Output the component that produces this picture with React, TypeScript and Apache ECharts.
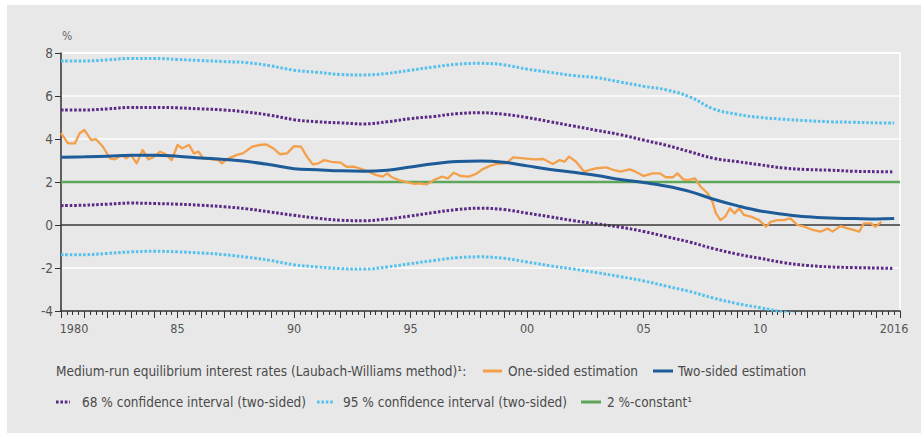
import React, { useEffect, useRef } from "react";
import * as echarts from "echarts";

// ---- data ----
const years = [1980, 1981, 1982, 1983, 1984, 1985, 1986, 1987, 1988, 1989, 1990, 1991, 1992, 1993, 1994, 1995, 1996, 1997, 1998, 1999, 2000, 2001, 2002, 2003, 2004, 2005, 2006, 2007, 2008, 2009, 2010, 2011, 2012, 2013, 2014, 2015, 2015.75];

const twoSided = [3.15, 3.17, 3.2, 3.25, 3.25, 3.2, 3.12, 3.05, 2.95, 2.8, 2.62, 2.57, 2.52, 2.5, 2.55, 2.7, 2.85, 2.95, 2.98, 2.92, 2.75, 2.58, 2.45, 2.3, 2.12, 1.98, 1.8, 1.55, 1.2, 0.9, 0.65, 0.5, 0.38, 0.32, 0.3, 0.28, 0.3];

const ci68Upper = [5.35, 5.35, 5.4, 5.47, 5.47, 5.45, 5.4, 5.35, 5.25, 5.1, 4.9, 4.8, 4.75, 4.7, 4.8, 4.95, 5.05, 5.18, 5.22, 5.15, 5.0, 4.8, 4.6, 4.4, 4.2, 3.95, 3.7, 3.4, 3.1, 2.95, 2.8, 2.65, 2.58, 2.55, 2.5, 2.48, 2.47];
const ci68Lower = [0.9, 0.92, 0.97, 1.02, 1.0, 0.97, 0.92, 0.85, 0.75, 0.6, 0.45, 0.32, 0.22, 0.2, 0.28, 0.42, 0.58, 0.72, 0.78, 0.72, 0.55, 0.38, 0.2, 0.05, -0.1, -0.3, -0.55, -0.8, -1.1, -1.35, -1.55, -1.75, -1.88, -1.95, -1.98, -2.0, -2.02];

const ci95Upper = [7.63, 7.63, 7.68, 7.75, 7.75, 7.7, 7.65, 7.6, 7.55, 7.4, 7.2, 7.1, 7.0, 6.98, 7.05, 7.2, 7.35, 7.48, 7.52, 7.45, 7.25, 7.1, 6.95, 6.85, 6.65, 6.45, 6.28, 5.95, 5.4, 5.15, 5.0, 4.92, 4.85, 4.8, 4.78, 4.75, 4.74];
const ci95Lower = [-1.38, -1.38, -1.32, -1.25, -1.22, -1.25, -1.3, -1.38, -1.5, -1.65, -1.85, -1.95, -2.03, -2.05, -1.95, -1.8, -1.65, -1.52, -1.48, -1.55, -1.72, -1.9, -2.05, -2.22, -2.4, -2.6, -2.85, -3.1, -3.4, -3.65, -3.85, -4.05, -4.2, -4.3, -4.4, -4.45, -4.5];

const oneSidedYears = [
  1980.0, 1980.3, 1980.6, 1980.8, 1981.0, 1981.3, 1981.5, 1981.8, 1982.1, 1982.3, 1982.6, 1982.8,
  1983.0, 1983.25, 1983.5, 1983.75, 1984.0, 1984.25, 1984.5, 1984.75, 1985.0, 1985.2, 1985.5, 1985.7, 1985.9,
  1986.1, 1986.5, 1986.75, 1986.9, 1987.2, 1987.55, 1987.8, 1988.2, 1988.5, 1988.8, 1989.1, 1989.4, 1989.7,
  1990.0, 1990.3, 1990.55, 1990.8, 1991.05, 1991.3, 1991.6, 1992.0, 1992.25, 1992.55, 1992.8,
  1993.2, 1993.5, 1993.8, 1994.0, 1994.2, 1994.5, 1994.8, 1995.15, 1995.4, 1995.7,
  1996.0, 1996.35, 1996.6, 1996.85, 1997.15, 1997.5, 1997.8, 1998.1, 1998.4, 1998.7,
  1999.1, 1999.4, 1999.85, 2000.3, 2000.7, 2001.1, 2001.4, 2001.6, 2001.8, 2002.1, 2002.45, 2002.7,
  2003.0, 2003.4, 2003.7, 2004.0, 2004.4, 2004.65, 2005.0, 2005.4, 2005.7, 2005.95,
  2006.25, 2006.45, 2006.7, 2006.9, 2007.2, 2007.45, 2007.75, 2007.95,
  2008.1, 2008.3, 2008.5, 2008.7, 2008.9, 2009.1, 2009.3, 2009.6, 2009.95,
  2010.25, 2010.45, 2010.75, 2011.0, 2011.3, 2011.6, 2011.9, 2012.25, 2012.6, 2012.9,
  2013.1, 2013.45, 2013.75, 2014.0, 2014.25, 2014.45, 2014.75, 2014.95, 2015.2,
];
const oneSided = [
  4.27, 3.8, 3.8, 4.27, 4.42, 3.95, 3.99, 3.64, 3.1, 3.05, 3.26, 3.1,
  3.26, 2.87, 3.49, 3.05, 3.18, 3.41, 3.29, 3.02, 3.72, 3.57, 3.72, 3.33, 3.41,
  3.1, 3.05, 3.02, 2.87, 3.1, 3.26, 3.33, 3.64, 3.72, 3.75, 3.57, 3.29, 3.33,
  3.67, 3.64, 3.18, 2.82, 2.87, 3.02, 2.94, 2.9, 2.71, 2.71, 2.64,
  2.48, 2.33, 2.25, 2.4, 2.22, 2.09, 2.01, 1.91, 1.94, 1.89,
  2.09, 2.25, 2.17, 2.43, 2.28, 2.25, 2.37, 2.6, 2.75, 2.84,
  2.87, 3.15, 3.1, 3.05, 3.07, 2.84, 3.02, 2.94, 3.18, 2.94, 2.48, 2.56,
  2.64, 2.68, 2.56, 2.48, 2.59, 2.48, 2.28, 2.4, 2.4, 2.22,
  2.22, 2.4, 2.12, 2.09, 2.17, 1.78, 1.47, 1.09,
  0.54, 0.23, 0.39, 0.78, 0.54, 0.78, 0.47, 0.39, 0.23,
  -0.08, 0.15, 0.23, 0.23, 0.31, 0.0, -0.08, -0.23, -0.31, -0.16,
  -0.31, -0.05, -0.16, -0.23, -0.31, 0.08, 0.08, -0.08, 0.15,
];

const constantYears = [1980, 2016];
const constantValues = [2, 2];

const seriesNames = {
  one: "One-sided estimation",
  two: "Two-sided estimation",
  ci68: "68 % confidence interval (two-sided)",
  ci95: "95 % confidence interval (two-sided)",
  constant: "2 %-constant¹",
};
const legendTitle = "Medium-run equilibrium interest rates (Laubach-Williams method)¹:";

// ---- style ----
const FONT = "'Liberation Sans Narrow', 'Arial Narrow', 'DejaVu Sans Condensed', 'Liberation Sans', sans-serif";
const C = {
  orange: "#f4a04b",
  blue: "#1d5c99",
  green: "#5ea65a",
  purple: "#5b2a86",
  cyan: "#55c1ec",
  bg: "#e8e8e8",
  text: "#4a4a4a",
  axis: "#2a2a2a",
};

const pairs = (xs: number[], ys: number[]) => xs.map((x, i) => [x, ys[i]]);

export default function App() {
  const ref = useRef<HTMLDivElement>(null);

  useEffect(() => {
    if (!ref.current) return;
    const chart = echarts.init(ref.current, undefined, { renderer: "svg" });

    const dotted = (color: string) => ({
      color,
      width: 3,
      type: [2.6, 1.8] as any,
      cap: "butt" as const,
    });

    const lineSeries = (name: string, data: any[], lineStyle: any, z: number, smooth: boolean | number) => ({
      name,
      type: "line",
      data,
      showSymbol: false,
      symbol: "none",
      smooth,
      lineStyle,
      itemStyle: { color: lineStyle.color },
      z,
      silent: true,
    });

    const legendY1 = 371;
    const legendY2 = 402;
    const LFS = 13.5;
    const legendText = (x: number, y: number, text: string) => ({
      type: "text",
      x,
      y,
      style: { text, fill: C.text, font: `${LFS}px ${FONT}`, verticalAlign: "middle", align: "left" },
    });
    const legendLine = (x1: number, x2: number, y: number, color: string, dash?: number[]) => ({
      type: "line",
      shape: { x1, y1: y, x2, y2: y },
      style: { stroke: color, lineWidth: 3, lineDash: dash, lineCap: "butt" },
    });

    const AFS = 12.5;

    chart.setOption({
      animation: false,
      backgroundColor: "#ffffff",
      grid: {
        left: 61,
        right: 21,
        top: 53,
        bottom: 122,
        show: true,
        borderColor: "#ffffff",
        borderWidth: 1.5,
        backgroundColor: "transparent",
      },
      xAxis: {
        type: "value",
        min: 1980,
        max: 2016,
        interval: 1,
        axisLine: { show: true, onZero: false, lineStyle: { color: C.axis, width: 1.5 } },
        axisTick: { show: true, length: 7, lineStyle: { color: "#333", width: 1 } },
        minorTick: { show: true, splitNumber: 4, length: 4, lineStyle: { color: "#333", width: 1 } },
        splitLine: { show: false },
        minorSplitLine: { show: false },
        axisLabel: {
          margin: 11,
          color: "#555",
          fontSize: AFS,
          fontFamily: FONT,
          formatter: (v: number) => {
            if (v === 1980) return "{a|1980}";
            if (v === 2016) return "{b|2016}";
            if (v % 5 === 0 && v !== 2015) return String(v).slice(2);
            return "";
          },
          rich: {
            a: { padding: [0, 0, 0, 26], fontSize: AFS, fontFamily: FONT, color: "#555" },
            b: { padding: [0, 12, 0, 0], fontSize: AFS, fontFamily: FONT, color: "#555" },
          },
        },
      },
      yAxis: {
        type: "value",
        min: -4,
        max: 8,
        interval: 2,
        axisLine: { show: true, lineStyle: { color: C.axis, width: 1.5 } },
        axisTick: { show: true, length: 6, lineStyle: { color: "#333", width: 1 } },
        splitLine: { show: true, lineStyle: { color: "#ffffff", width: 1.5 } },
        axisLabel: { margin: 8, color: "#555", fontSize: 13.5, fontFamily: FONT },
      },
      series: [
        lineSeries(seriesNames.ci95, pairs(years, ci95Upper), dotted(C.cyan), 2, 0.4),
        lineSeries(seriesNames.ci95 + " lower", pairs(years, ci95Lower), dotted(C.cyan), 2, 0.4),
        lineSeries(seriesNames.ci68, pairs(years, ci68Upper), dotted(C.purple), 3, 0.4),
        lineSeries(seriesNames.ci68 + " lower", pairs(years, ci68Lower), dotted(C.purple), 3, 0.4),
        {
          ...lineSeries(seriesNames.constant, pairs(constantYears, constantValues), { color: C.green, width: 2.5 }, 4, false),
          markLine: {
            silent: true,
            symbol: ["none", "none"],
            label: { show: false },
            lineStyle: { color: "#333", width: 1.5, type: "solid" },
            data: [{ yAxis: 0 }],
          },
        },
        lineSeries(seriesNames.one, pairs(oneSidedYears, oneSided), { color: C.orange, width: 2.3, join: "round" }, 5, false),
        lineSeries(seriesNames.two, pairs(years, twoSided), { color: C.blue, width: 3 }, 6, 0.4),
      ],
      graphic: [
        {
          type: "rect",
          z: -100,
          silent: true,
          shape: { x: 7, y: 5, width: 914, height: 428 },
          style: { fill: C.bg },
        },
        {
          type: "text",
          x: 62,
          y: 36,
          style: { text: "%", fill: "#666", font: `12px ${FONT}`, verticalAlign: "middle", align: "left" },
        },
        legendText(56, legendY1, legendTitle),
        legendLine(483, 502, legendY1, C.orange),
        legendText(508, legendY1, seriesNames.one),
        legendLine(653, 673, legendY1, C.blue),
        legendText(678, legendY1, seriesNames.two),
        legendLine(56, 70, legendY2, C.purple, [2.6, 1.8]),
        legendText(82, legendY2, seriesNames.ci68),
        legendLine(317, 333, legendY2, C.cyan, [2.6, 1.8]),
        legendText(343, legendY2, seriesNames.ci95),
        legendLine(581, 601, legendY2, C.green),
        legendText(607, legendY2, seriesNames.constant),
      ],
    });

    return () => chart.dispose();
  }, []);

  return (
    <div
      ref={ref}
      style={{ position: "absolute", left: 0, top: 0, width: 921, height: 433 }}
    />
  );
}
